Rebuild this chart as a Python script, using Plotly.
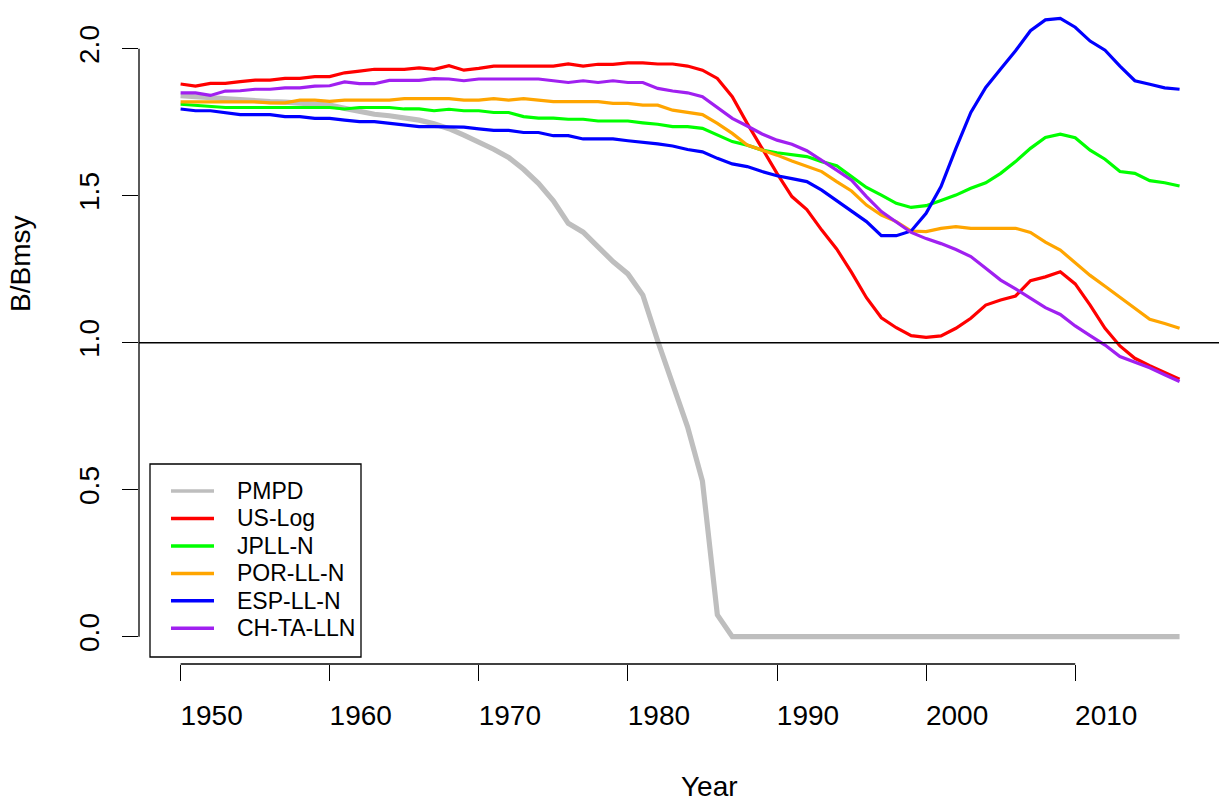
import plotly.graph_objects as go

# ---- data -------------------------------------------------------------
years = list(range(1950, 2018))

pmpd = [1.840, 1.836, 1.832, 1.830, 1.826, 1.823, 1.820, 1.818, 1.815, 1.812,
        1.808, 1.797, 1.786, 1.777, 1.772, 1.766, 1.757, 1.745, 1.728, 1.706,
        1.683, 1.658, 1.630, 1.590, 1.542, 1.483, 1.406, 1.376, 1.326, 1.276,
        1.234, 1.162, 1.006, 0.856, 0.714, 0.529, 0.074, 0.000, 0.000, 0.000,
        0.000, 0.000, 0.000, 0.000, 0.000, 0.000, 0.000, 0.000, 0.000, 0.000,
        0.000, 0.000, 0.000, 0.000, 0.000, 0.000, 0.000, 0.000, 0.000, 0.000,
        0.000, 0.000, 0.000, 0.000, 0.000, 0.000, 0.000, 0.000]

us_log = [1.880, 1.873, 1.882, 1.882, 1.888, 1.893, 1.893, 1.899, 1.899, 1.905,
          1.905, 1.918, 1.924, 1.930, 1.930, 1.930, 1.935, 1.930, 1.942, 1.927,
          1.933, 1.941, 1.941, 1.941, 1.941, 1.941, 1.948, 1.941, 1.947, 1.947,
          1.952, 1.952, 1.948, 1.948, 1.941, 1.927, 1.899, 1.837, 1.746, 1.661,
          1.576, 1.497, 1.453, 1.383, 1.319, 1.239, 1.153, 1.085, 1.051, 1.024,
          1.018, 1.023, 1.049, 1.083, 1.128, 1.145, 1.159, 1.211, 1.224, 1.241,
          1.200, 1.128, 1.049, 0.989, 0.947, 0.922, 0.898, 0.876]

jpll_n = [1.811, 1.808, 1.805, 1.800, 1.800, 1.800, 1.800, 1.800, 1.800, 1.800,
          1.800, 1.795, 1.800, 1.800, 1.800, 1.795, 1.795, 1.789, 1.794, 1.789,
          1.789, 1.783, 1.783, 1.769, 1.764, 1.764, 1.760, 1.760, 1.754, 1.754,
          1.754, 1.748, 1.743, 1.735, 1.735, 1.729, 1.706, 1.684, 1.672, 1.655,
          1.646, 1.640, 1.633, 1.616, 1.602, 1.565, 1.528, 1.502, 1.474, 1.460,
          1.466, 1.484, 1.502, 1.525, 1.544, 1.576, 1.616, 1.661, 1.698, 1.709,
          1.697, 1.655, 1.624, 1.582, 1.576, 1.551, 1.544, 1.533]

por_ll_n = [1.819, 1.819, 1.819, 1.819, 1.819, 1.819, 1.816, 1.816, 1.825, 1.825,
            1.821, 1.825, 1.825, 1.825, 1.825, 1.830, 1.830, 1.830, 1.830, 1.825,
            1.825, 1.830, 1.825, 1.830, 1.825, 1.820, 1.820, 1.820, 1.820, 1.814,
            1.814, 1.808, 1.808, 1.791, 1.783, 1.776, 1.746, 1.712, 1.672, 1.655,
            1.638, 1.618, 1.599, 1.582, 1.548, 1.516, 1.468, 1.434, 1.412, 1.380,
            1.378, 1.389, 1.395, 1.389, 1.389, 1.389, 1.389, 1.375, 1.342, 1.315,
            1.273, 1.229, 1.192, 1.154, 1.119, 1.080, 1.065, 1.049]

esp_ll_n = [1.795, 1.789, 1.789, 1.783, 1.776, 1.776, 1.776, 1.769, 1.769, 1.763,
            1.763, 1.757, 1.752, 1.752, 1.746, 1.740, 1.735, 1.735, 1.735, 1.733,
            1.727, 1.722, 1.722, 1.715, 1.715, 1.704, 1.704, 1.693, 1.693, 1.693,
            1.687, 1.682, 1.676, 1.669, 1.657, 1.649, 1.627, 1.608, 1.599, 1.582,
            1.568, 1.558, 1.548, 1.519, 1.483, 1.447, 1.412, 1.364, 1.364, 1.380,
            1.440, 1.531, 1.661, 1.783, 1.868, 1.931, 1.993, 2.061, 2.098, 2.103,
            2.073, 2.026, 1.995, 1.941, 1.891, 1.879, 1.867, 1.862]

ch_ta_lln = [1.850, 1.850, 1.841, 1.856, 1.857, 1.862, 1.862, 1.867, 1.867, 1.873,
             1.874, 1.887, 1.881, 1.881, 1.892, 1.892, 1.892, 1.898, 1.897, 1.891,
             1.897, 1.897, 1.897, 1.897, 1.897, 1.891, 1.885, 1.891, 1.885, 1.891,
             1.885, 1.885, 1.865, 1.856, 1.850, 1.837, 1.800, 1.763, 1.737, 1.710,
             1.689, 1.675, 1.653, 1.621, 1.587, 1.553, 1.497, 1.446, 1.412, 1.375,
             1.354, 1.337, 1.317, 1.293, 1.253, 1.213, 1.183, 1.151, 1.119, 1.096,
             1.057, 1.024, 0.992, 0.953, 0.935, 0.915, 0.891, 0.868]

series_names = ["PMPD", "US-Log", "JPLL-N", "POR-LL-N", "ESP-LL-N", "CH-TA-LLN"]
series_values = [pmpd, us_log, jpll_n, por_ll_n, esp_ll_n, ch_ta_lln]
series_colors = ["#BEBEBE", "#FF0000", "#00FF00", "#FFA500", "#0000FF", "#A020F0"]
series_widths = [5.2, 3.2, 3.2, 3.2, 3.2, 3.2]

x_ticks = [1950, 1960, 1970, 1980, 1990, 2000, 2010]
x_tick_labels = ["1950", "1960", "1970", "1980", "1990", "2000", "2010"]
y_ticks = [0.0, 0.5, 1.0, 1.5, 2.0]
y_tick_labels = ["0.0", "0.5", "1.0", "1.5", "2.0"]
reference_level = 1.0

# ---- layout geometry (pixels) ------------------------------------------
W, H = 1220, 802
ML, MR, MT, MB = 139, 1, 0, 138
PW, PH = W - ML - MR, H - MT - MB
FONT = "Liberation Sans, Arial, Helvetica, sans-serif"


def px_x(p):
    return (p - ML) / PW


def px_y(p):
    return (H - MB - p) / PH


fig = go.Figure()

for name, vals, col, lw in zip(series_names, series_values, series_colors, series_widths):
    fig.add_trace(go.Scatter(
        x=years, y=vals, mode="lines", name=name,
        line=dict(color=col, width=lw),
        showlegend=False, hoverinfo="x+y+name",
    ))

shapes = []
# reference line across the whole panel
shapes.append(dict(type="line", xref="paper", yref="y", x0=0, x1=1,
                   y0=reference_level, y1=reference_level,
                   line=dict(color="black", width=1.6)))
# axis lines spanning first to last tick
shapes.append(dict(type="line", xref="paper", yref="y", x0=0, x1=0,
                   y0=y_ticks[0], y1=y_ticks[-1], line=dict(color="black", width=1.3)))
shapes.append(dict(type="line", xref="x", yref="paper", x0=x_ticks[0], x1=x_ticks[-1],
                   y0=0, y1=0, line=dict(color="black", width=1.3)))

# legend box
box_l, box_r, box_t, box_b = 150, 361, 464, 657
shapes.append(dict(type="rect", xref="paper", yref="paper",
                   x0=px_x(box_l), x1=px_x(box_r), y0=px_y(box_b), y1=px_y(box_t),
                   line=dict(color="black", width=1.3), fillcolor="white", layer="above"))

annotations = []
row0, row_gap = 491, 27.46
for i, (name, col) in enumerate(zip(series_names, series_colors)):
    ry = row0 + i * row_gap
    shapes.append(dict(type="line", xref="paper", yref="paper",
                       x0=px_x(171), x1=px_x(214), y0=px_y(ry), y1=px_y(ry),
                       line=dict(color=col, width=3.5), layer="above"))
    annotations.append(dict(xref="paper", yref="paper", x=px_x(235), y=px_y(ry),
                            text=name, showarrow=False, xanchor="left", yanchor="middle",
                            font=dict(family=FONT, size=23, color="black")))

# axis titles
annotations.append(dict(xref="paper", yref="paper", x=px_x(709), y=px_y(786),
                        text="Year", showarrow=False, xanchor="center", yanchor="middle",
                        font=dict(family=FONT, size=28, color="black")))
annotations.append(dict(xref="paper", yref="paper", x=px_x(21), y=px_y(264),
                        text="B/Bmsy", showarrow=False, textangle=-90,
                        xanchor="center", yanchor="middle",
                        font=dict(family=FONT, size=28, color="black")))

px_per_year = 14.91
x_left = 1950 - (180.6 - ML) / px_per_year
x_right = 1950 + (ML + PW - 180.6) / px_per_year
px_per_unit = 294.0
zero_px = 636.7
y_bottom = -((H - MB) - zero_px) / px_per_unit
y_top = (zero_px - MT) / px_per_unit

fig.update_layout(
    width=W, height=H,
    margin=dict(l=ML, r=MR, t=MT, b=MB, pad=0),
    paper_bgcolor="white", plot_bgcolor="white",
    font=dict(family=FONT, size=28, color="black"),
    shapes=shapes, annotations=annotations,
    xaxis=dict(range=[x_left, x_right], showgrid=False, zeroline=False, showline=False,
               tickmode="array", tickvals=x_ticks, ticktext=x_tick_labels,
               ticks="outside", ticklen=16, tickwidth=1.3, tickcolor="black",
               tickfont=dict(family=FONT, size=28, color="black"),
               ticklabelshift=31, ticklabelstandoff=10),
    yaxis=dict(range=[y_bottom, y_top], showgrid=False, zeroline=False, showline=False,
               tickmode="array", tickvals=y_ticks, ticktext=y_tick_labels,
               ticks="outside", ticklen=16, tickwidth=1.3, tickcolor="black",
               tickangle=-90,
               tickfont=dict(family=FONT, size=28, color="black"),
               ticklabelstandoff=12),
)

fig.write_html("out.html")
